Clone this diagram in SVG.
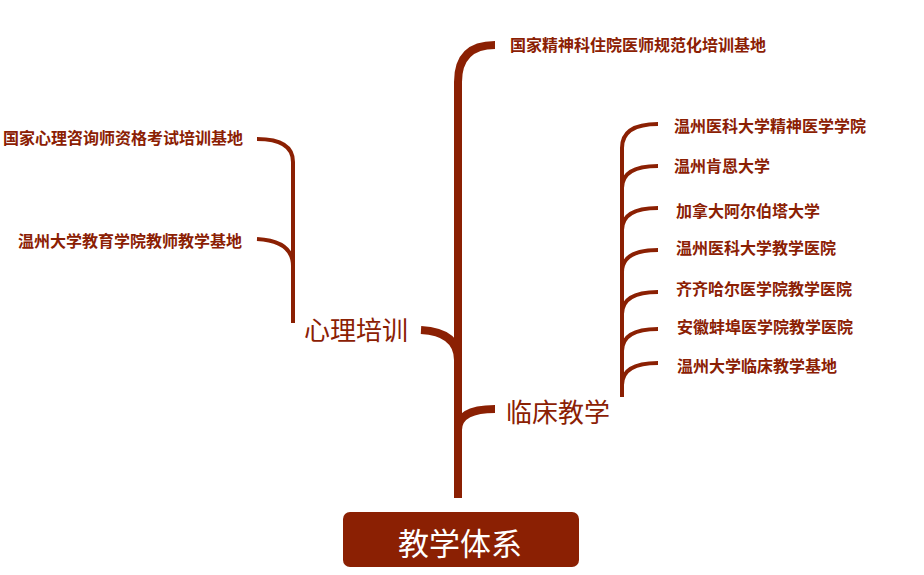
<svg xmlns="http://www.w3.org/2000/svg" width="924" height="575" viewBox="0 0 924 575">
<style>
.ln{fill:none;stroke:#8B2003;stroke-linecap:butt}
.thick{stroke-width:8}
.thin{stroke-width:4}
.sm{font-family:"Noto Sans CJK SC","Noto Sans",sans-serif;font-size:16px;font-weight:700;fill:#8B2003;dominant-baseline:central}
.md{font-family:"Noto Sans CJK SC","Noto Sans",sans-serif;font-size:26px;fill:#8B2003;dominant-baseline:central}
.lg{font-family:"Noto Sans CJK SC","Noto Sans",sans-serif;font-size:31px;fill:#ffffff;dominant-baseline:central;text-anchor:middle}
</style>
<g id="connectors">
<path class="ln thick" d="M458 498 V82 Q458 45 495 45"/>
<path class="ln thick" d="M421 330 Q458 332 458 360"/>
<path class="ln thick" d="M458 430 Q458 409 495 409"/>
<path class="ln thin" d="M293 323 V162 Q293 139 257 139"/>
<path class="ln thin" d="M257 239 Q293 241 293 266"/>
<path class="ln thin" d="M622 397 V148 Q622 124 658 124"/>
<path class="ln thin" d="M622 188 Q622 166 658 166"/>
<path class="ln thin" d="M622 230 Q622 208 658 208"/>
<path class="ln thin" d="M622 272 Q622 250 658 250"/>
<path class="ln thin" d="M622 314 Q622 292 658 292"/>
<path class="ln thin" d="M622 351 Q622 329 658 329"/>
<path class="ln thin" d="M622 385 Q622 363 658 363"/>
</g>
<g id="root"><rect x="343" y="512" width="236" height="55" rx="7" fill="#8B2003"/><text class="lg" x="460" y="541">教学体系</text></g>
<g id="n-xlpx"><text class="md" x="304" y="328">心理培训</text></g>
<g id="n-lcjx"><text class="md" x="506" y="410">临床教学</text></g>
<g id="n-jsk"><text class="sm" x="510" y="44">国家精神科住院医师规范化培训基地</text></g>
<g id="n-xlzx"><text class="sm" x="3" y="137">国家心理咨询师资格考试培训基地</text></g>
<g id="n-wzdx"><text class="sm" x="18" y="240">温州大学教育学院教师教学基地</text></g>
<g id="r1"><text class="sm" x="674" y="125">温州医科大学精神医学学院</text></g>
<g id="r2"><text class="sm" x="674" y="165">温州肯恩大学</text></g>
<g id="r3"><text class="sm" x="676" y="210">加拿大阿尔伯塔大学</text></g>
<g id="r4"><text class="sm" x="676" y="247">温州医科大学教学医院</text></g>
<g id="r5"><text class="sm" x="676" y="288">齐齐哈尔医学院教学医院</text></g>
<g id="r6"><text class="sm" x="677" y="326">安徽蚌埠医学院教学医院</text></g>
<g id="r7"><text class="sm" x="677" y="365">温州大学临床教学基地</text></g>
</svg>
